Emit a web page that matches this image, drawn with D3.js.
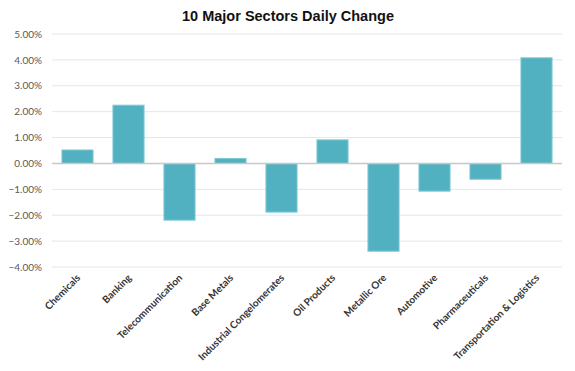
<!DOCTYPE html>
<html>
<head>
<meta charset="utf-8">
<script src="https://cdn.jsdelivr.net/npm/d3@7"></script>
<style>
  body { margin: 0; background: #fff; }
  svg { display: block; }
</style>
</head>
<body>
<svg id="chart" width="575" height="371"></svg>
<script>
const sectors = ["Chemicals", "Banking", "Telecommunication", "Base Metals", "Industrial Congelomerates",
  "Oil Products", "Metallic Ore", "Automotive", "Pharmaceuticals", "Transportation & Logistics"]
const changes = [0.52, 2.25, -2.19, 0.19, -1.88, 0.91, -3.39, -1.07, -0.61, 4.08]
const yTicks = [5, 4, 3, 2, 1, 0, -1, -2, -3, -4]

const width = 575, height = 371
const margin = { top: 34, right: 13, bottom: 104, left: 52 }

const svg = d3.select("#chart")

const x = d3.scaleBand()
    .domain(sectors)
    .range([margin.left, width - margin.right])
    .paddingInner(0.39)
    .paddingOuter(0.195)

const y = d3.scaleLinear()
    .domain([-4, 5])
    .range([height - margin.bottom, margin.top])

svg.append("text")
    .attr("x", 288)
    .attr("y", 21)
    .attr("text-anchor", "middle")
    .attr("font-family", "Liberation Sans, Arial, sans-serif")
    .attr("font-weight", "bold")
    .attr("font-size", 14.5)
    .attr("fill", "#111")
    .text("10 Major Sectors Daily Change")

// grid
svg.append("g")
    .selectAll("line")
    .data(yTicks.filter(d => d !== 0))
    .join("line")
    .attr("x1", margin.left)
    .attr("x2", width - margin.right)
    .attr("y1", d => y(d))
    .attr("y2", d => y(d))
    .attr("stroke", "#e6e6e6")
    .attr("stroke-width", 1)

// y axis labels
const yAxis = svg.append("g")
    .attr("transform", `translate(${margin.left},0)`)
    .call(d3.axisLeft(y).tickValues(yTicks).tickSize(0).tickPadding(10)
        .tickFormat(d => d3.format(".2f")(d) + "%"))
yAxis.select(".domain").remove()
yAxis.selectAll("text")
    .attr("font-family", "Lato, Carlito, sans-serif")
    .attr("font-size", 10)
    .attr("fill", "#595959")

// bars
svg.append("g")
    .selectAll("rect")
    .data(changes)
    .join("rect")
    .attr("x", (d, i) => x(sectors[i]))
    .attr("width", x.bandwidth())
    .attr("y", d => y(Math.max(0, d)))
    .attr("height", d => Math.abs(y(d) - y(0)))
    .attr("fill", "#52b1c0")
    .attr("stroke", "#7fcad6")
    .attr("stroke-width", 1)

// zero line
svg.append("line")
    .attr("x1", margin.left)
    .attr("x2", width - margin.right)
    .attr("y1", y(0))
    .attr("y2", y(0))
    .attr("stroke", "#c8c8c8")
    .attr("stroke-width", 1.5)

// x labels
svg.append("g")
    .selectAll("text")
    .data(sectors)
    .join("text")
    .attr("transform", d => `translate(${x(d) + x.bandwidth() / 2 + 1},${height - margin.bottom + 9}) rotate(-45)`)
    .attr("text-anchor", "end")
    .attr("dy", "0.35em")
    .attr("font-family", "Lato, Carlito, sans-serif")
    .attr("font-weight", "bold")
    .attr("font-size", 10)
    .attr("fill", "#333")
    .text(d => d)
</script>
</body>
</html>
